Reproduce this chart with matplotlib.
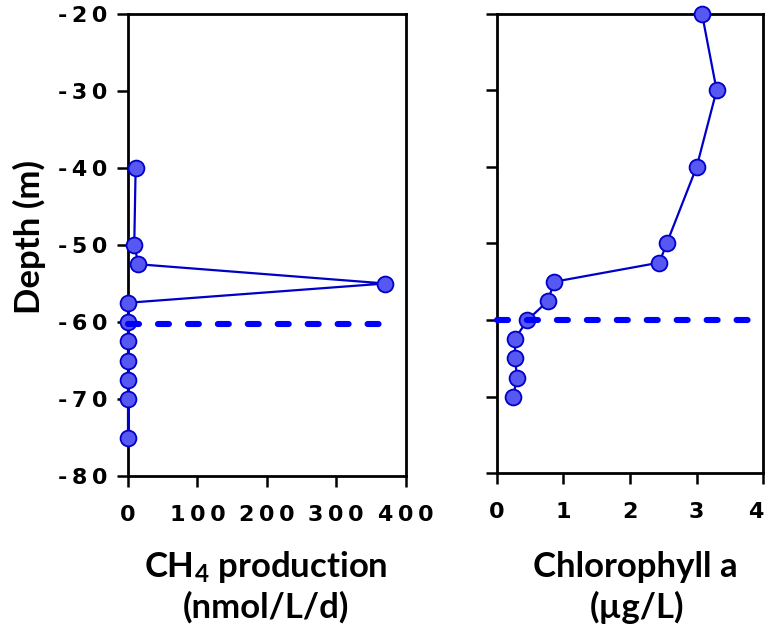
import matplotlib
matplotlib.use("Agg")
import matplotlib.pyplot as plt

# Depth profiles
ch4_depth = [-40, -50, -52.5, -55, -57.5, -60, -62.5, -65, -67.5, -70, -75]
ch4_prod = [11, 9, 15, 371, 0, 0, 0, 0, 0, 0, 0]

chl_depth = [-20, -30, -40, -50, -52.5, -55, -57.5, -60, -62.5, -65, -67.5, -70]
chl_a = [3.08, 3.30, 3.00, 2.55, 2.44, 0.86, 0.77, 0.46, 0.27, 0.28, 0.30, 0.25]

# Boundary depth marked by dashed line
ch4_boundary = -60.3
ch4_boundary_x = [0, 382]
chl_boundary = -60.0
chl_boundary_x = [0, 3.8]

y_ticks = [-20, -30, -40, -50, -60, -70, -80]
ch4_ticks = [0, 100, 200, 300, 400]
chl_ticks = [0, 1, 2, 3, 4]

plt.rcParams["font.family"] = ["DejaVu Sans"]
plt.rcParams["font.weight"] = "bold"
plt.rcParams["mathtext.fontset"] = "custom"
plt.rcParams["mathtext.rm"] = "Lato:bold"
plt.rcParams["mathtext.it"] = "Lato:bold"
plt.rcParams["mathtext.bf"] = "Lato:bold"

W, H = 769, 631
fig = plt.figure(figsize=(W / 100, H / 100), dpi=100)

def rect(x0, y_top, x1, y_bot):
    return [x0 / W, (H - y_bot) / H, (x1 - x0) / W, (y_bot - y_top) / H]

ax1 = fig.add_axes(rect(128, 14, 405.6, 476))
ax2 = fig.add_axes(rect(496.7, 13.7, 763.3, 473.3))

# tick labels are letter-spaced with a thin space
GAP = "\u2009"
def spaced(v):
    return GAP.join(str(v))

line_col = "#0000c8"
face_col = "#5757f2"
dash_col = "#0000ff"

for ax, xs, ys, xt, bnd, bx in [
    (ax1, ch4_prod, ch4_depth, ch4_ticks, ch4_boundary, ch4_boundary_x),
    (ax2, chl_a, chl_depth, chl_ticks, chl_boundary, chl_boundary_x),
]:
    ax.plot(xs, ys, color=line_col, lw=1.6, marker="o", ms=11.4,
            mfc=face_col, mec=line_col, mew=1.3, clip_on=False, zorder=3)
    ax.plot(bx, [bnd, bnd], color=dash_col, lw=4.4, linestyle=(0, (1.8, 3.1)),
            dash_capstyle="round", clip_on=False, zorder=4)
    ax.set_xlim(xt[0], xt[-1])
    ax.set_ylim(-80, -20)
    ax.set_yticks(y_ticks)
    ax.set_xticks(xt)
    ax.set_xticklabels([spaced(v) for v in xt])
    for s in ax.spines.values():
        s.set_linewidth(2.0)
    ax.tick_params(direction="out", length=8, width=1.8, top=False, right=False,
                   labelsize=16)
    ax.tick_params(axis="x", pad=13)
    ax.tick_params(axis="y", pad=7)

ax1.set_yticklabels([spaced(v) for v in y_ticks])
ax2.set_yticklabels([])
# keep the last chlorophyll tick label inside the figure
ax2.get_xticklabels()[-1].set_horizontalalignment("right")

lab_font = dict(family=["Lato", "DejaVu Sans"], weight="bold", size=25)

def fx(x):
    return x / W

def fy(y):
    return (H - y) / H

fig.text(fx(266), fy(577), r"CH$_{4}$ production", ha="center", va="baseline", **lab_font)
fig.text(fx(266), fy(618), "(nmol/L/d)", ha="center", va="baseline", **lab_font)
fig.text(fx(635), fy(577), "Chlorophyll a", ha="center", va="baseline", **lab_font)
fig.text(fx(637), fy(618), "(\u00b5g/L)", ha="center", va="baseline", **lab_font)
fig.text(fx(29), fy(237), "Depth (m)", rotation=90, ha="center", va="center", **lab_font)

fig.savefig("out.png", dpi=100)
